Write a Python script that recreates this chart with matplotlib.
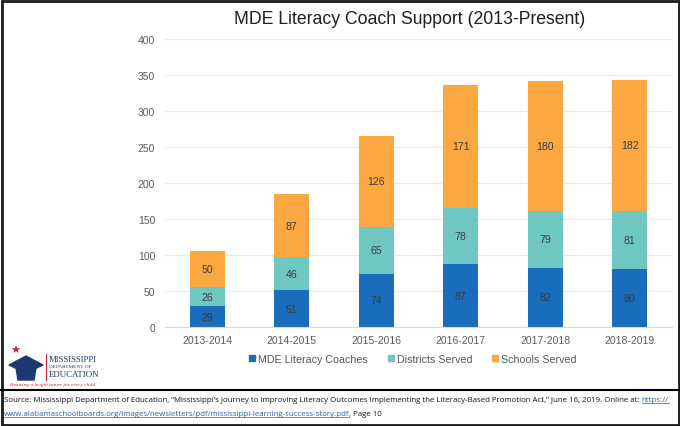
import matplotlib.pyplot as plt
from matplotlib.patches import Patch, Rectangle, Polygon
from matplotlib.lines import Line2D
import numpy as np

years = ['2013-2014', '2014-2015', '2015-2016', '2016-2017', '2017-2018', '2018-2019']
coaches = [29, 51, 74, 87, 82, 80]
districts = [26, 46, 65, 78, 79, 81]
schools = [50, 87, 126, 171, 180, 182]
series_names = ['MDE Literacy Coaches', 'Districts Served', 'Schools Served']
colors = ['#1a6dbd', '#6fc7c2', '#fba842']

plt.rcParams['font.family'] = ['Liberation Sans', 'DejaVu Sans']

W, H = 680, 427
fig = plt.figure(figsize=(W / 100, H / 100), dpi=100)
ax = fig.add_axes([165 / W, 1 - 328 / H, (672 - 165) / W, (328 - 39.5) / H])

x = np.arange(len(years))
bottom = np.zeros(len(years))
for vals, c in zip([coaches, districts, schools], colors):
    bars = ax.bar(x, vals, width=0.41, bottom=bottom, color=c, zorder=2)
    for b, v, b0 in zip(bars, vals, bottom):
        ax.text(b.get_x() + b.get_width() / 2, b0 + v / 2, str(v),
                ha='center', va='center', fontsize=7.6, color='#3c3c3c', zorder=3)
    bottom = bottom + np.array(vals)

ax.set_xlim(-0.5, len(years) - 0.5)
ax.set_ylim(0, 400)
ax.set_yticks(range(0, 401, 50))
ax.set_xticks(x)
ax.set_xticklabels(years)
ax.tick_params(length=0, labelsize=7.5, labelcolor='#5a5a5a', pad=6)
ax.tick_params(axis='y', pad=7)
ax.yaxis.grid(True, color='#e8e8e8', lw=0.8, zorder=0)
for s in ['top', 'right', 'left']:
    ax.spines[s].set_visible(False)
ax.spines['bottom'].set_color('#d9d9d9')

fig.text(410 / W, 1 - 20 / H, 'MDE Literacy Coach Support (2013-Present)',
         ha='center', va='center', fontsize=12.7, color='#1f1f1f')

handles = [Patch(color=c) for c in colors]
fig.legend(handles, series_names, loc='center', bbox_to_anchor=(413 / W, 1 - 360 / H),
           ncol=3, frameon=False, fontsize=7.7, handlelength=0.55, handleheight=0.55,
           handletextpad=0.25, columnspacing=1.9, labelcolor='#555555')

# logo
fig.text(15 / W, 1 - 351 / H, '\u2605', color='#c8232c', fontsize=8, ha='center', va='center')
cap = Polygon([(9 / W, 1 - 366 / H), (26 / W, 1 - 357 / H), (43 / W, 1 - 366 / H),
               (26 / W, 1 - 374 / H)], closed=True, transform=fig.transFigure,
              color='#1d3a6e')
fig.add_artist(cap)
base = Polygon([(16 / W, 1 - 369 / H), (36 / W, 1 - 369 / H), (34 / W, 1 - 381 / H),
                (18 / W, 1 - 381 / H)], closed=True, transform=fig.transFigure,
               color='#1d3a6e')
fig.add_artist(base)
fig.add_artist(Line2D([46 / W, 46 / W], [1 - 355 / H, 1 - 381 / H], transform=fig.transFigure,
                      color='#c8232c', lw=0.8))
fig.text(49 / W, 1 - 360 / H, 'MISSISSIPPI', family='Liberation Serif', fontsize=6.2,
         color='#1d3a6e', va='center')
fig.text(49 / W, 1 - 367 / H, 'DEPARTMENT OF', family='Liberation Serif', fontsize=3.8,
         color='#1d3a6e', va='center')
fig.text(49 / W, 1 - 375 / H, 'EDUCATION', family='Liberation Serif', fontsize=6.4,
         color='#1d3a6e', va='center')
fig.text(9 / W, 1 - 385 / H, 'Ensuring a bright future for every child', family='Liberation Serif',
         fontsize=3.9, color='#c8232c', va='center', style='italic')

# source box and border
fig.add_artist(Line2D([0, 1], [1 - 390.5 / H, 1 - 390.5 / H], transform=fig.transFigure,
                      color='black', lw=1.5))
fig.add_artist(Rectangle((1.5 / W, 1.5 / H), (W - 3) / W, (H - 3) / H, transform=fig.transFigure,
                         fill=False, ec='#1a1a1a', lw=2))

src1 = ('Source: Mississippi Department of Education, \u201cMississippi\u2019s Journey to Improving '
        'Literacy Outcomes Implementing the Literacy-Based Promotion Act,\u201d June 16, 2019. Online at: ')
link1 = 'https://'
link2 = 'www.alabamaschoolboards.org/images/newsletters/pdf/mississippi-learning-success-story.pdf'
src2 = ', Page 10'

fs = 5.65
fam = 'Open Sans'
t1 = fig.text(4 / W, 1 - 401 / H, src1, fontsize=fs, family=fam, va='center', color='#111111')
fig.canvas.draw()
r = fig.canvas.get_renderer()
bb = t1.get_window_extent(r)
t2 = fig.text(bb.x1 / W, 1 - 401 / H, link1, fontsize=fs, family=fam, va='center', color='#2a5db0')
t3 = fig.text(4 / W, 1 - 415 / H, link2, fontsize=fs, family=fam, va='center', color='#2a5db0')
fig.canvas.draw()
bb2 = t2.get_window_extent(r)
bb3 = t3.get_window_extent(r)
t4 = fig.text(bb3.x1 / W, 1 - 415 / H, src2, fontsize=fs, family=fam, va='center', color='#111111')
for b in [bb2, bb3]:
    y = b.y0 + 1
    fig.add_artist(Line2D([b.x0 / W, b.x1 / W], [y / H, y / H], transform=fig.transFigure,
                          color='#2a5db0', lw=0.5))

fig.savefig('out.png', dpi=100)
